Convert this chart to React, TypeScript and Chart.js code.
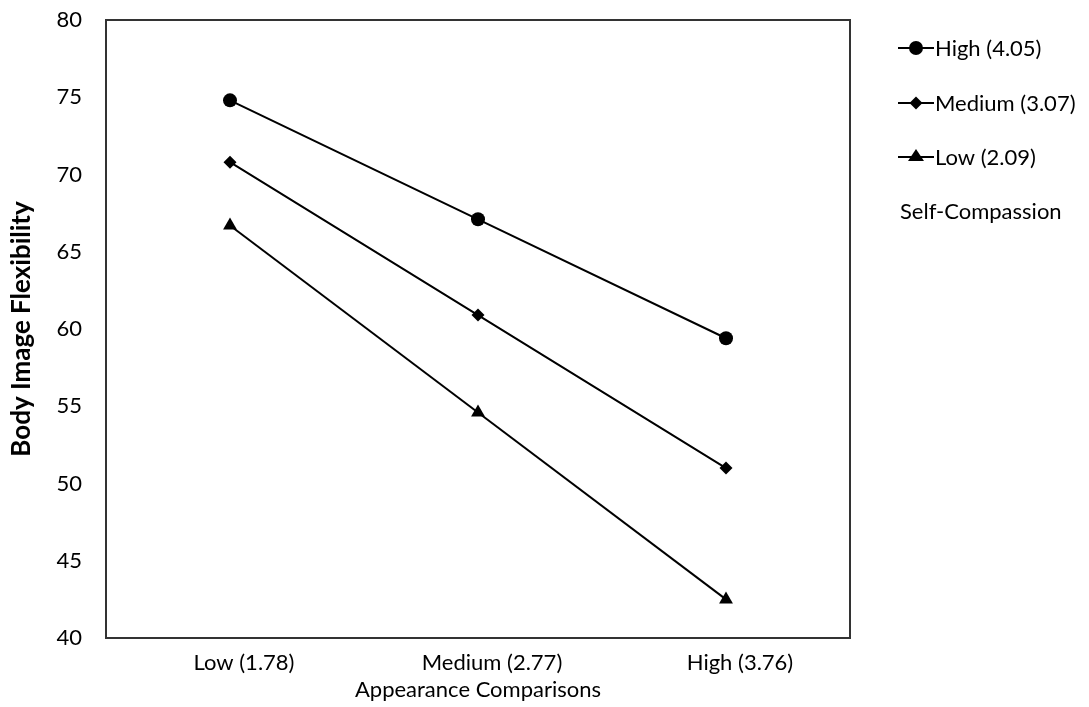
import React, { useEffect, useRef } from "react";
import { Chart, registerables } from "chart.js";

Chart.register(...registerables);

const categories = ["Low (1.78)", "Medium (2.77)", "High (3.76)"];
const highSC = [74.8, 67.1, 59.4];
const mediumSC = [70.8, 60.9, 51.0];
const lowSC = [66.7, 54.6, 42.5];
const seriesLabels = ["High (4.05)", "Medium (3.07)", "Low (2.09)"];
const pointStyles = ["circle", "rectRot", "triangle"];
const pointRadii = [7, 6.5, 8];
const yTicks = [40, 45, 50, 55, 60, 65, 70, 75, 80];
const legendTitle = "Self-Compassion";

const FONT = "Lato, 'Noto Sans', sans-serif";

function drawMarker(ctx: CanvasRenderingContext2D, style: string, x: number, y: number, r: number) {
  ctx.beginPath();
  if (style === "circle") {
    ctx.arc(x, y, r, 0, Math.PI * 2);
  } else if (style === "rectRot") {
    ctx.moveTo(x, y - r);
    ctx.lineTo(x + r, y);
    ctx.lineTo(x, y + r);
    ctx.lineTo(x - r, y);
    ctx.closePath();
  } else {
    const h = r * 1.5;
    ctx.moveTo(x, y - h * 0.66);
    ctx.lineTo(x + r, y + h * 0.34);
    ctx.lineTo(x - r, y + h * 0.34);
    ctx.closePath();
  }
  ctx.fill();
}

const frameAndLegend = {
  id: "frameAndLegend",
  afterDraw(chart: any) {
    const { ctx, chartArea } = chart;
    ctx.save();
    ctx.strokeStyle = "#333";
    ctx.lineWidth = 2;
    ctx.strokeRect(chartArea.left, chartArea.top, chartArea.right - chartArea.left, chartArea.bottom - chartArea.top);
    const x0 = 898;
    const ys = [48, 103, 157];
    ctx.fillStyle = "#000";
    ctx.strokeStyle = "#000";
    ctx.font = `22px ${FONT}`;
    ctx.textBaseline = "middle";
    chart.data.datasets.forEach((ds: any, i: number) => {
      const y = ys[i];
      ctx.lineWidth = 2;
      ctx.beginPath();
      ctx.moveTo(x0, y);
      ctx.lineTo(x0 + 36, y);
      ctx.stroke();
      drawMarker(ctx, ds.pointStyle, x0 + 18, y, ds.pointRadius);
      ctx.fillText(ds.label, x0 + 37, y + 1);
    });
    ctx.fillText(legendTitle, 900, 212);
    ctx.restore();
  },
};

export default function App() {
  const ref = useRef<HTMLCanvasElement | null>(null);
  useEffect(() => {
    document.body.style.margin = "0";
    const values = [highSC, mediumSC, lowSC];
    const chart = new Chart(ref.current!, {
      type: "line",
      data: {
        labels: categories,
        datasets: values.map((v, i) => ({
          label: seriesLabels[i],
          data: v,
          borderColor: "#000",
          backgroundColor: "#000",
          borderWidth: 2,
          pointStyle: pointStyles[i] as any,
          pointRadius: pointRadii[i],
          pointBackgroundColor: "#000",
          pointBorderColor: "#000",
          pointBorderWidth: 0,
          tension: 0,
        })),
      },
      options: {
        animation: false,
        responsive: false,
        layout: { padding: { top: 20, right: 239, left: 0, bottom: 0 } },
        plugins: { legend: { display: false }, tooltip: { enabled: false } },
        scales: {
          x: {
            offset: true,
            grid: { display: false, drawTicks: false },
            border: { display: true, color: "#333", width: 2 },
            ticks: { color: "#000", font: { size: 22, family: FONT }, padding: 12, labelOffset: 14 },
            title: {
              display: true,
              text: "Appearance Comparisons",
              color: "#000",
              font: { size: 22, family: FONT },
              padding: { top: 0, bottom: 4 },
            },
            afterFit: (s: any) => { s.height = 69; s.paddingLeft = 0; s.paddingRight = 0; },
          },
          y: {
            min: 40,
            max: 80,
            afterBuildTicks: (s: any) => { s.ticks = yTicks.map((v) => ({ value: v })); },
            grid: { display: false, drawTicks: false },
            border: { display: true, color: "#333", width: 2 },
            ticks: { color: "#000", font: { size: 22, family: FONT }, padding: 24 },
            title: {
              display: true,
              text: "Body Image Flexibility",
              color: "#000",
              font: { size: 26, weight: "bold", family: FONT },
              padding: { top: 6, bottom: 0 },
            },
            afterFit: (s: any) => { s.width = 106; s.paddingTop = 0; s.paddingBottom = 0; },
          },
        },
      },
      plugins: [frameAndLegend],
    });
    return () => chart.destroy();
  }, []);
  return <canvas ref={ref} width={1089} height={707} style={{ display: "block" }} />;
}
